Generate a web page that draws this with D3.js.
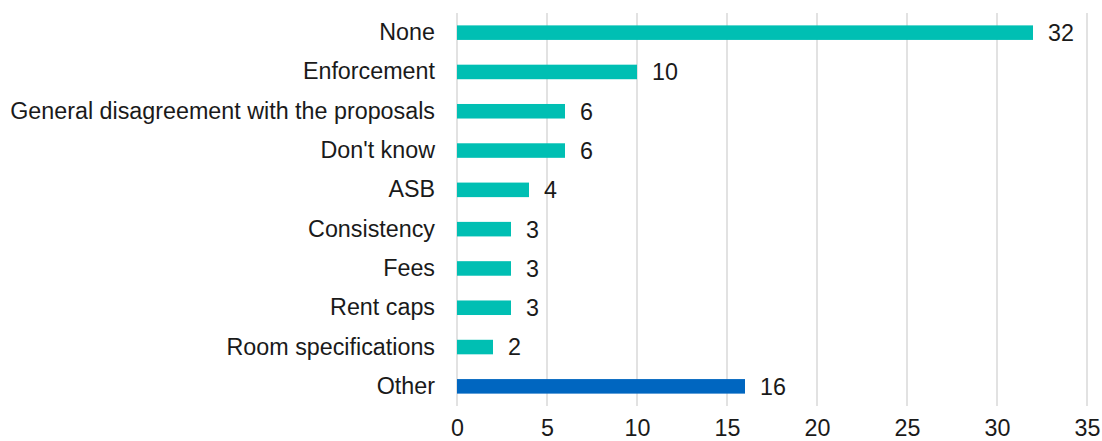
<!DOCTYPE html>
<html>
<head>
<meta charset="utf-8">
<script src="https://cdn.jsdelivr.net/npm/d3@7"></script>
<style>
  body { margin: 0; background: #fff; }
  text { font-family: "Liberation Sans", Arial, sans-serif; }
</style>
</head>
<body>
<div id="chart"></div>
<script>
var categories = ["None", "Enforcement", "General disagreement with the proposals", "Don't know",
                  "ASB", "Consistency", "Fees", "Rent caps", "Room specifications", "Other"];
var values = [32, 10, 6, 6, 4, 3, 3, 3, 2, 16];
var barColors = ["#00bfb3", "#00bfb3", "#00bfb3", "#00bfb3", "#00bfb3",
                 "#00bfb3", "#00bfb3", "#00bfb3", "#00bfb3", "#0066c0"];
var xTicks = [0, 5, 10, 15, 20, 25, 30, 35];

var width = 1102, height = 441;
var margin = {top: 13, right: 15, bottom: 35, left: 457};
var fontSize = "23.3px";

var data = categories.map(function(c, i) {
    return {name: c, value: values[i], color: barColors[i]};
});

//
// Scales
//
var x = d3.scaleLinear().domain([0, 35]).range([margin.left, 1087]);
var y = d3.scaleBand().domain(categories)
    .range([margin.top, height - margin.bottom])
    .paddingInner(0.63).paddingOuter(0.315);

var svg = d3.select("#chart").append("svg")
    .attr("width", width)
    .attr("height", height);

// gridlines
svg.append("g")
    .attr("class", "grid")
    .selectAll("line")
    .data(xTicks)
    .enter().append("line")
    .attr("x1", function(d) { return x(d); })
    .attr("x2", function(d) { return x(d); })
    .attr("y1", margin.top)
    .attr("y2", height - margin.bottom)
    .attr("stroke", "#d9d9d9")
    .attr("stroke-width", 1.5);

// bars
svg.append("g")
    .selectAll("rect")
    .data(data)
    .enter().append("rect")
    .attr("x", x(0))
    .attr("y", function(d) { return y(d.name); })
    .attr("width", function(d) { return x(d.value) - x(0); })
    .attr("height", y.bandwidth())
    .attr("fill", function(d) { return d.color; });

// value labels
svg.append("g")
    .selectAll("text")
    .data(data)
    .enter().append("text")
    .attr("x", function(d) { return x(d.value) + 15; })
    .attr("y", function(d) { return y(d.name) + y.bandwidth() / 2; })
    .attr("dy", "0.36em")
    .attr("fill", "#1a1a1a")
    .style("font-size", fontSize)
    .text(function(d) { return d.value; });

// y axis (category labels)
var yAxis = svg.append("g")
    .attr("transform", "translate(" + (margin.left - 22) + ",0)")
    .call(d3.axisLeft(y).tickSize(0).tickPadding(0));
yAxis.select(".domain").remove();
yAxis.selectAll("text")
    .attr("fill", "#1a1a1a")
    .style("font-size", fontSize);

// x axis
var xAxis = svg.append("g")
    .attr("transform", "translate(0," + (height - margin.bottom) + ")")
    .call(d3.axisBottom(x).tickValues(xTicks).tickSize(0).tickPadding(0));
xAxis.select(".domain").remove();
xAxis.selectAll("text")
    .attr("fill", "#1a1a1a")
    .attr("y", 30)
    .attr("dy", 0)
    .style("font-size", fontSize);
</script>
</body>
</html>
